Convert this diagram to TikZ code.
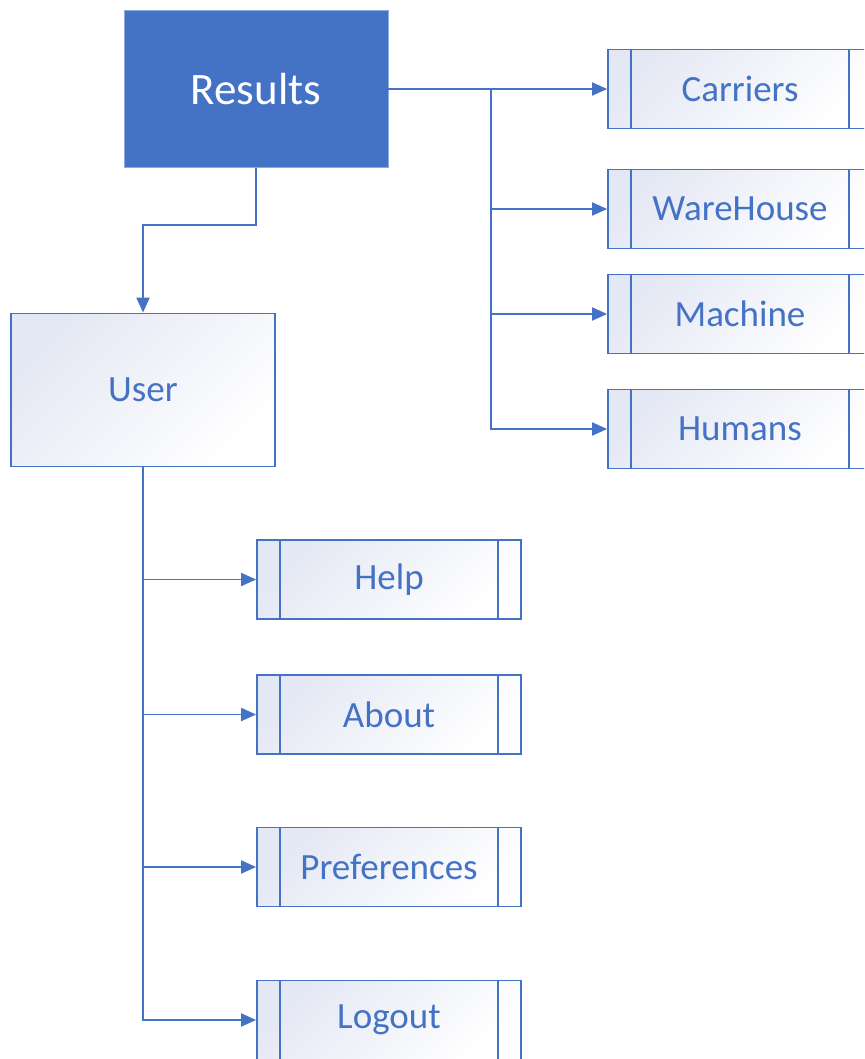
\documentclass[tikz,border=0pt]{standalone}
\usepackage{fontspec}
\setmainfont{Carlito}
\usetikzlibrary{arrows.meta}

\definecolor{boxblue}{HTML}{4472C4}
\definecolor{boxtint}{HTML}{E4E8F4}

\tikzset{
  mainbox/.style={fill=boxblue, draw=boxblue!60!white, line width=0.8pt,
    minimum width=264pt, minimum height=157pt,
    inner sep=0pt, text=white, font=\fontsize{45}{54}\selectfont},
  userbox/.style={draw=boxblue, line width=1.8pt, top color=boxtint,
    bottom color=white, shading angle=45, minimum width=264pt,
    minimum height=153pt, inner sep=0pt, text=boxblue,
    font=\fontsize{37}{44}\selectfont},
  procbox/.style={userbox, minimum height=79pt,
    path picture={
      \draw[boxblue, line width=1.8pt]
        ([xshift=23pt]path picture bounding box.north west)
          -- ([xshift=23pt]path picture bounding box.south west)
        ([xshift=-23pt]path picture bounding box.north east)
          -- ([xshift=-23pt]path picture bounding box.south east);
    }},
  link/.style={draw=boxblue, line width=1.9pt,
    -{Triangle[length=15pt, width=13pt]}},
}

\begin{document}
\begin{tikzpicture}[x=1pt, y=1pt]
  \useasboundingbox (0,0) rectangle (864,-1059);
  \clip (0,0) rectangle (864,-1059);

  \node[mainbox] (results) at (256,-89)  {Results};
  \node[userbox] (user)    at (143,-390) {User};

  % right column
  \node[procbox] (carriers)  at (740,-89)                          {Carriers};
  \node[procbox] (warehouse) [below of=carriers, node distance=120pt]  {WareHouse};
  \node[procbox] (machine)   [below of=warehouse, node distance=105pt] {Machine};
  \node[procbox] (humans)    [below of=machine, node distance=115pt]   {Humans};

  % left column
  \node[procbox] (help)  at (389,-579.5)                        {Help};
  \node[procbox] (about) [below of=help, node distance=135pt]   {About};
  \node[procbox] (prefs) [below of=about, node distance=152.5pt] {Preferences};
  \node[procbox] (logout) [below of=prefs, node distance=153pt] {Logout};

  \coordinate (rsplit) at (491,-89);

  \draw[link] (results.east) -- (carriers.west);
  \draw[link] (rsplit) |- (warehouse.west);
  \draw[link] (rsplit) |- (machine.west);
  \draw[link] (rsplit) |- (humans.west);

  \draw[link] (results.south) -- ++(0,-57) -| (user.north);

  \draw[link] (user.south) |- (help.west);
  \draw[link] (user.south) |- (about.west);
  \draw[link] (user.south) |- (prefs.west);
  \draw[link] (user.south) |- (logout.west);
\end{tikzpicture}
\end{document}
